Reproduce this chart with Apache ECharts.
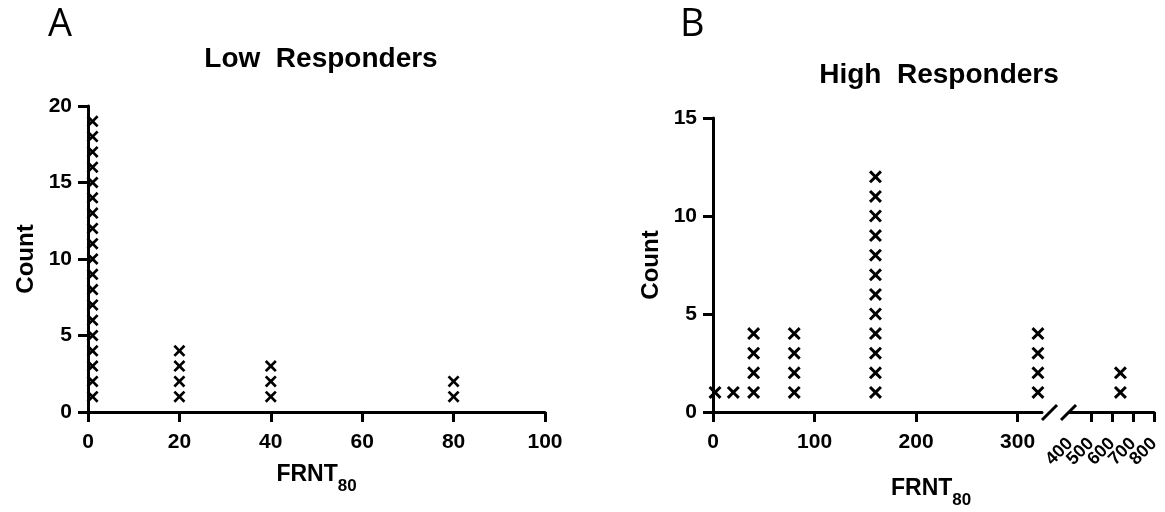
<!DOCTYPE html>
<html>
<head>
<meta charset="utf-8">
<script src="https://cdn.jsdelivr.net/npm/echarts@6/dist/echarts.min.js"></script>
<style>
html, body { margin: 0; padding: 0; background: #fff; }
#chart { width: 1165px; height: 512px; }
</style>
</head>
<body>
<div id="chart"></div>
<script>
// ================* DOT PLOT : FRNT80 *

// --- Low responders (A)
var lowTiters = [1, 20, 40, 80];
var lowCounts = [19, 4, 3, 2];
var lowXTicks = [0, 20, 40, 60, 80, 100];
var lowYTicks = [0, 5, 10, 15, 20];

// --- High responders (B), axis broken between 324 and 400
var highTiters = [2, 20, 40, 80, 160, 320, 640];
var highCounts = [1, 1, 4, 4, 12, 4, 2];
var highXTicks1 = [0, 100, 200, 300];
var highXTicks2 = [400, 500, 600, 700, 800];
var highXTickMarks2 = [500, 600, 700, 800];
var highYTicks = [0, 5, 10, 15];

var crossPath = 'path://M0,1.6L1.6,0L5,3.4L8.4,0L10,1.6L6.6,5L10,8.4L8.4,10L5,6.6L1.6,10L0,8.4L3.4,5Z';
var font = 'Liberation Sans, Arial, sans-serif';

// one cross per subject, stacked 1..n above its titer
function stackDots(titers, counts) {
    var pts = [];
    for (var i = 0; i < titers.length; i++) {
        for (var k = 1; k <= counts[i]; k++) {
            pts.push([titers[i], k]);
        }
    }
    return pts;
}

var lowDots = stackDots(lowTiters, lowCounts);
var highDots = stackDots(highTiters, highCounts);
var highDots1 = highDots.filter(function (p) { return p[0] < 400; });
var highDots2 = highDots.filter(function (p) { return p[0] >= 400; });

// the rotated labels overlap, echarts drops every other one -> split on two axes
var highLabelsEven = highXTicks2.filter(function (v, i) { return i % 2 === 0; });
var highLabelsOdd = highXTicks2.filter(function (v, i) { return i % 2 === 1; });

function axisBase(extra) {
    var a = {
        axisLine: { show: true, onZero: false, lineStyle: { color: '#000', width: 3 } },
        axisTick: { show: true, length: 10, lineStyle: { color: '#000', width: 3 } },
        axisLabel: { color: '#000', fontWeight: 'bold', fontSize: 21, fontFamily: font, showMinLabel: true, showMaxLabel: true },
        splitLine: { show: false },
        nameTextStyle: { color: '#000', fontWeight: 'bold', fontSize: 24, fontFamily: font }
    };
    for (var k in extra) {
        if (typeof extra[k] === 'object' && a[k] && !Array.isArray(extra[k])) {
            a[k] = Object.assign({}, a[k], extra[k]);
        } else {
            a[k] = extra[k];
        }
    }
    return a;
}

var frntRich = {
    a: { fontSize: 23, fontWeight: 'bold', fontFamily: font, color: '#000', lineHeight: 28, verticalAlign: 'top' },
    b: { fontSize: 17, fontWeight: 'bold', fontFamily: font, color: '#000', lineHeight: 18, padding: [15, 0, 0, 0], verticalAlign: 'top' }
};

var crossStyle = { color: '#000', opacity: 1 };

var chart = echarts.init(document.getElementById('chart'), null, { renderer: 'canvas' });

var option = {
    backgroundColor: '#fff',
    animation: false,
    title: [{
        text: 'Low  Responders',
        left: 316, top: 40, textAlign: 'center',
        textStyle: { color: '#000', fontWeight: 'bold', fontSize: 28, fontFamily: font }
    }, {
        text: 'High  Responders',
        left: 934, top: 56, textAlign: 'center',
        textStyle: { color: '#000', fontWeight: 'bold', fontSize: 28, fontFamily: font }
    }],
    grid: [
        { left: 88, top: 106, width: 457, height: 306 },
        { left: 713, top: 118, width: 329, height: 294 },
        { left: 1070, top: 118, width: 84, height: 294 }
    ],
    xAxis: [
        axisBase({
            gridIndex: 0, type: 'value', min: 0, max: 100, interval: 20,
            name: '{a|FRNT}{b|80}', nameLocation: 'middle', nameGap: 51,
            nameTextStyle: { rich: frntRich },
            axisLabel: { margin: 20, customValues: lowXTicks },
            axisTick: { customValues: lowXTicks }
        }),
        axisBase({
            gridIndex: 1, type: 'value', min: 0, max: 324, interval: 100,
            axisLabel: { margin: 20, customValues: highXTicks1 },
            axisTick: { customValues: highXTicks1 }
        }),
        axisBase({
            gridIndex: 2, type: 'value', position: 'bottom', min: 400, max: 800, interval: 100,
            axisLabel: { margin: 29, rotate: 45, fontSize: 18, customValues: highLabelsEven },
            axisTick: { customValues: highXTickMarks2 }
        }),
        axisBase({
            gridIndex: 2, type: 'value', position: 'bottom', offset: 0, min: 400, max: 800, interval: 100,
            axisLine: { show: false },
            axisTick: { show: false },
            axisLabel: { margin: 29, rotate: 45, fontSize: 18, customValues: highLabelsOdd }
        })
    ],
    yAxis: [
        axisBase({
            gridIndex: 0, type: 'value', min: 0, max: 20, interval: 5,
            name: 'Count', nameLocation: 'middle', nameGap: 50,
            axisLabel: { margin: 16, customValues: lowYTicks },
            axisTick: { customValues: lowYTicks }
        }),
        axisBase({
            gridIndex: 1, type: 'value', min: 0, max: 15, interval: 5,
            name: 'Count', nameLocation: 'middle', nameGap: 50,
            axisLabel: { margin: 16, customValues: highYTicks },
            axisTick: { customValues: highYTicks }
        }),
        { gridIndex: 2, type: 'value', min: 0, max: 15, show: false }
    ],
    series: [{
        type: 'scatter', xAxisIndex: 0, yAxisIndex: 0,
        symbol: crossPath, symbolSize: 12, clip: false,
        itemStyle: crossStyle,
        data: lowDots
    }, {
        type: 'scatter', xAxisIndex: 1, yAxisIndex: 1,
        symbol: crossPath, symbolSize: 13, clip: false,
        itemStyle: crossStyle,
        data: highDots1
    }, {
        type: 'scatter', xAxisIndex: 2, yAxisIndex: 2,
        symbol: crossPath, symbolSize: 13, clip: false,
        itemStyle: crossStyle,
        data: highDots2
    }],
    graphic: [
        // panel letters
        { type: 'text', left: 48, top: 6, style: { text: 'A', fontSize: 38, fontFamily: 'Open Sans, sans-serif', fill: '#000' } },
        { type: 'text', left: 680, top: 6, style: { text: 'B', fontSize: 38, fontFamily: 'Open Sans, sans-serif', fill: '#000' } },
        // x axis name for B, centred under the whole broken axis
        {
            type: 'text', left: 891, top: 477,
            style: {
                text: '{a|FRNT}{b|80}',
                rich: {
                    a: { fontSize: 23, fontWeight: 'bold', fontFamily: font, fill: '#000', lineHeight: 28, verticalAlign: 'top' },
                    b: { fontSize: 17, fontWeight: 'bold', fontFamily: font, fill: '#000', lineHeight: 18, padding: [15, 0, 0, 0], verticalAlign: 'top' }
                }
            }
        },
        // axis break marks
        { type: 'line', shape: { x1: 1042, y1: 420, x2: 1057, y2: 405 }, style: { stroke: '#000', lineWidth: 3 } },
        { type: 'line', shape: { x1: 1061, y1: 420, x2: 1076, y2: 405 }, style: { stroke: '#000', lineWidth: 3 } }
    ]
};

chart.setOption(option);
</script>
</body>
</html>
